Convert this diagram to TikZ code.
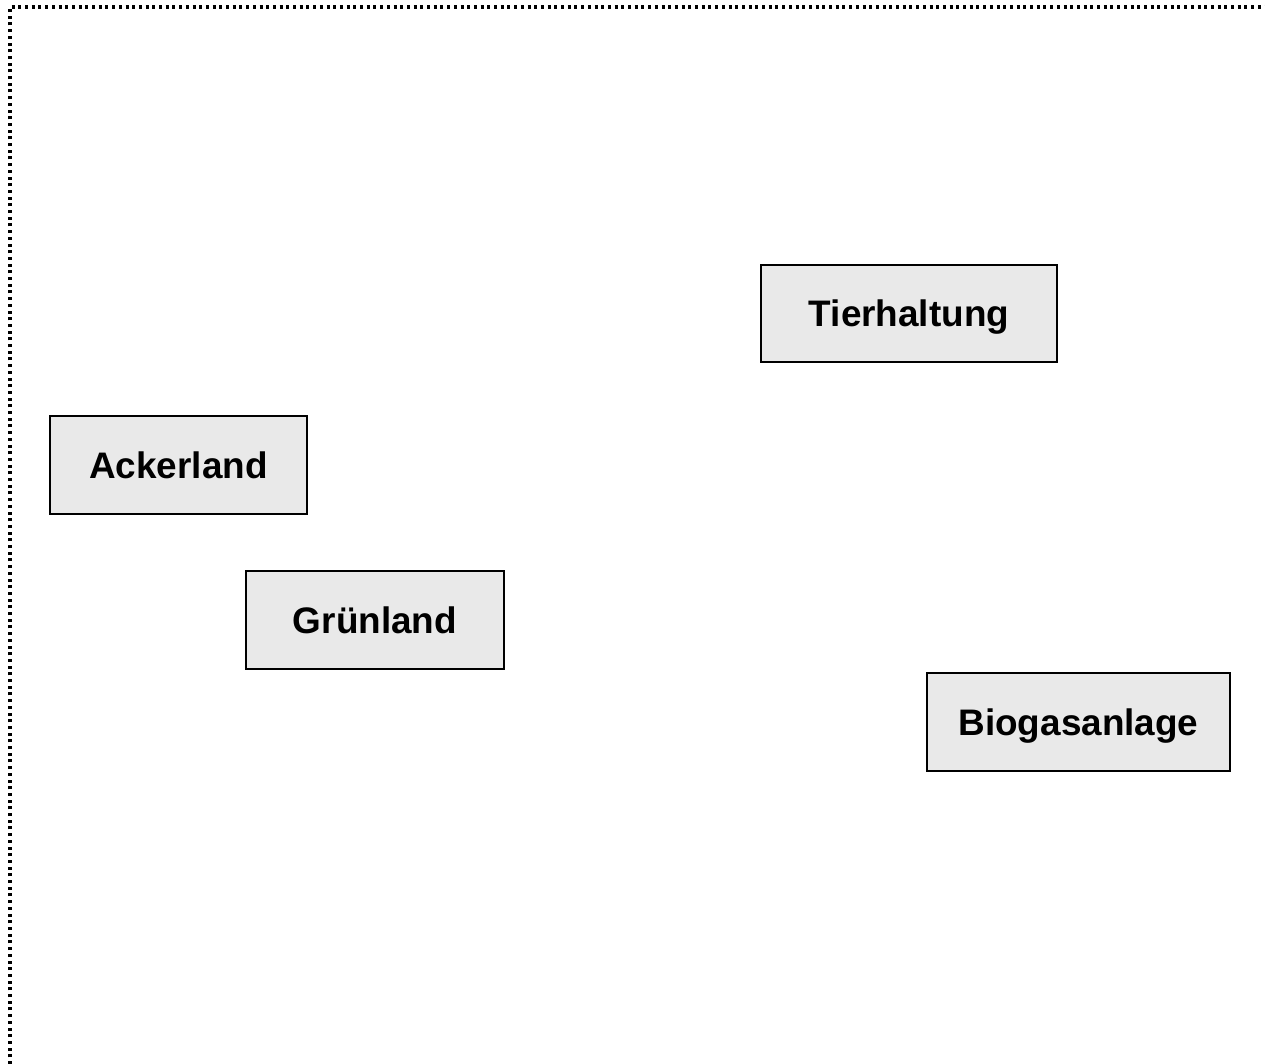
\documentclass[tikz,border=0pt]{standalone}
\usepackage{fontspec}
\setmainfont{Liberation Sans}
\begin{document}
\begin{tikzpicture}[
    field/.style={draw=black, line width=1.1pt, fill=gray!17, minimum height=1.95cm, text depth=0pt, font=\fontsize{21}{25}\selectfont\bfseries}
    ]
            \useasboundingbox (0,0) rectangle (25.3,-21.28);
            \draw [line width=1.8pt, dash pattern=on 0.06cm off 0.074cm] (0.2,-21.28) to (0.2,-0.14) to (25.3,-0.14);
            \node [field, minimum width=5.92cm] (tierhaltung) at (18.18,-6.27) {Tierhaltung};
            \node [field, minimum width=5.14cm] (ackerland) at (3.57,-9.30) {Ackerland};
            \node [field, minimum width=5.16cm] (gruenland) at (7.50,-12.40) {Grünland};
            \node [field, minimum width=6.06cm] (biogas) at (21.57,-14.44) {Biogasanlage};
        \end{tikzpicture}
\end{document}
